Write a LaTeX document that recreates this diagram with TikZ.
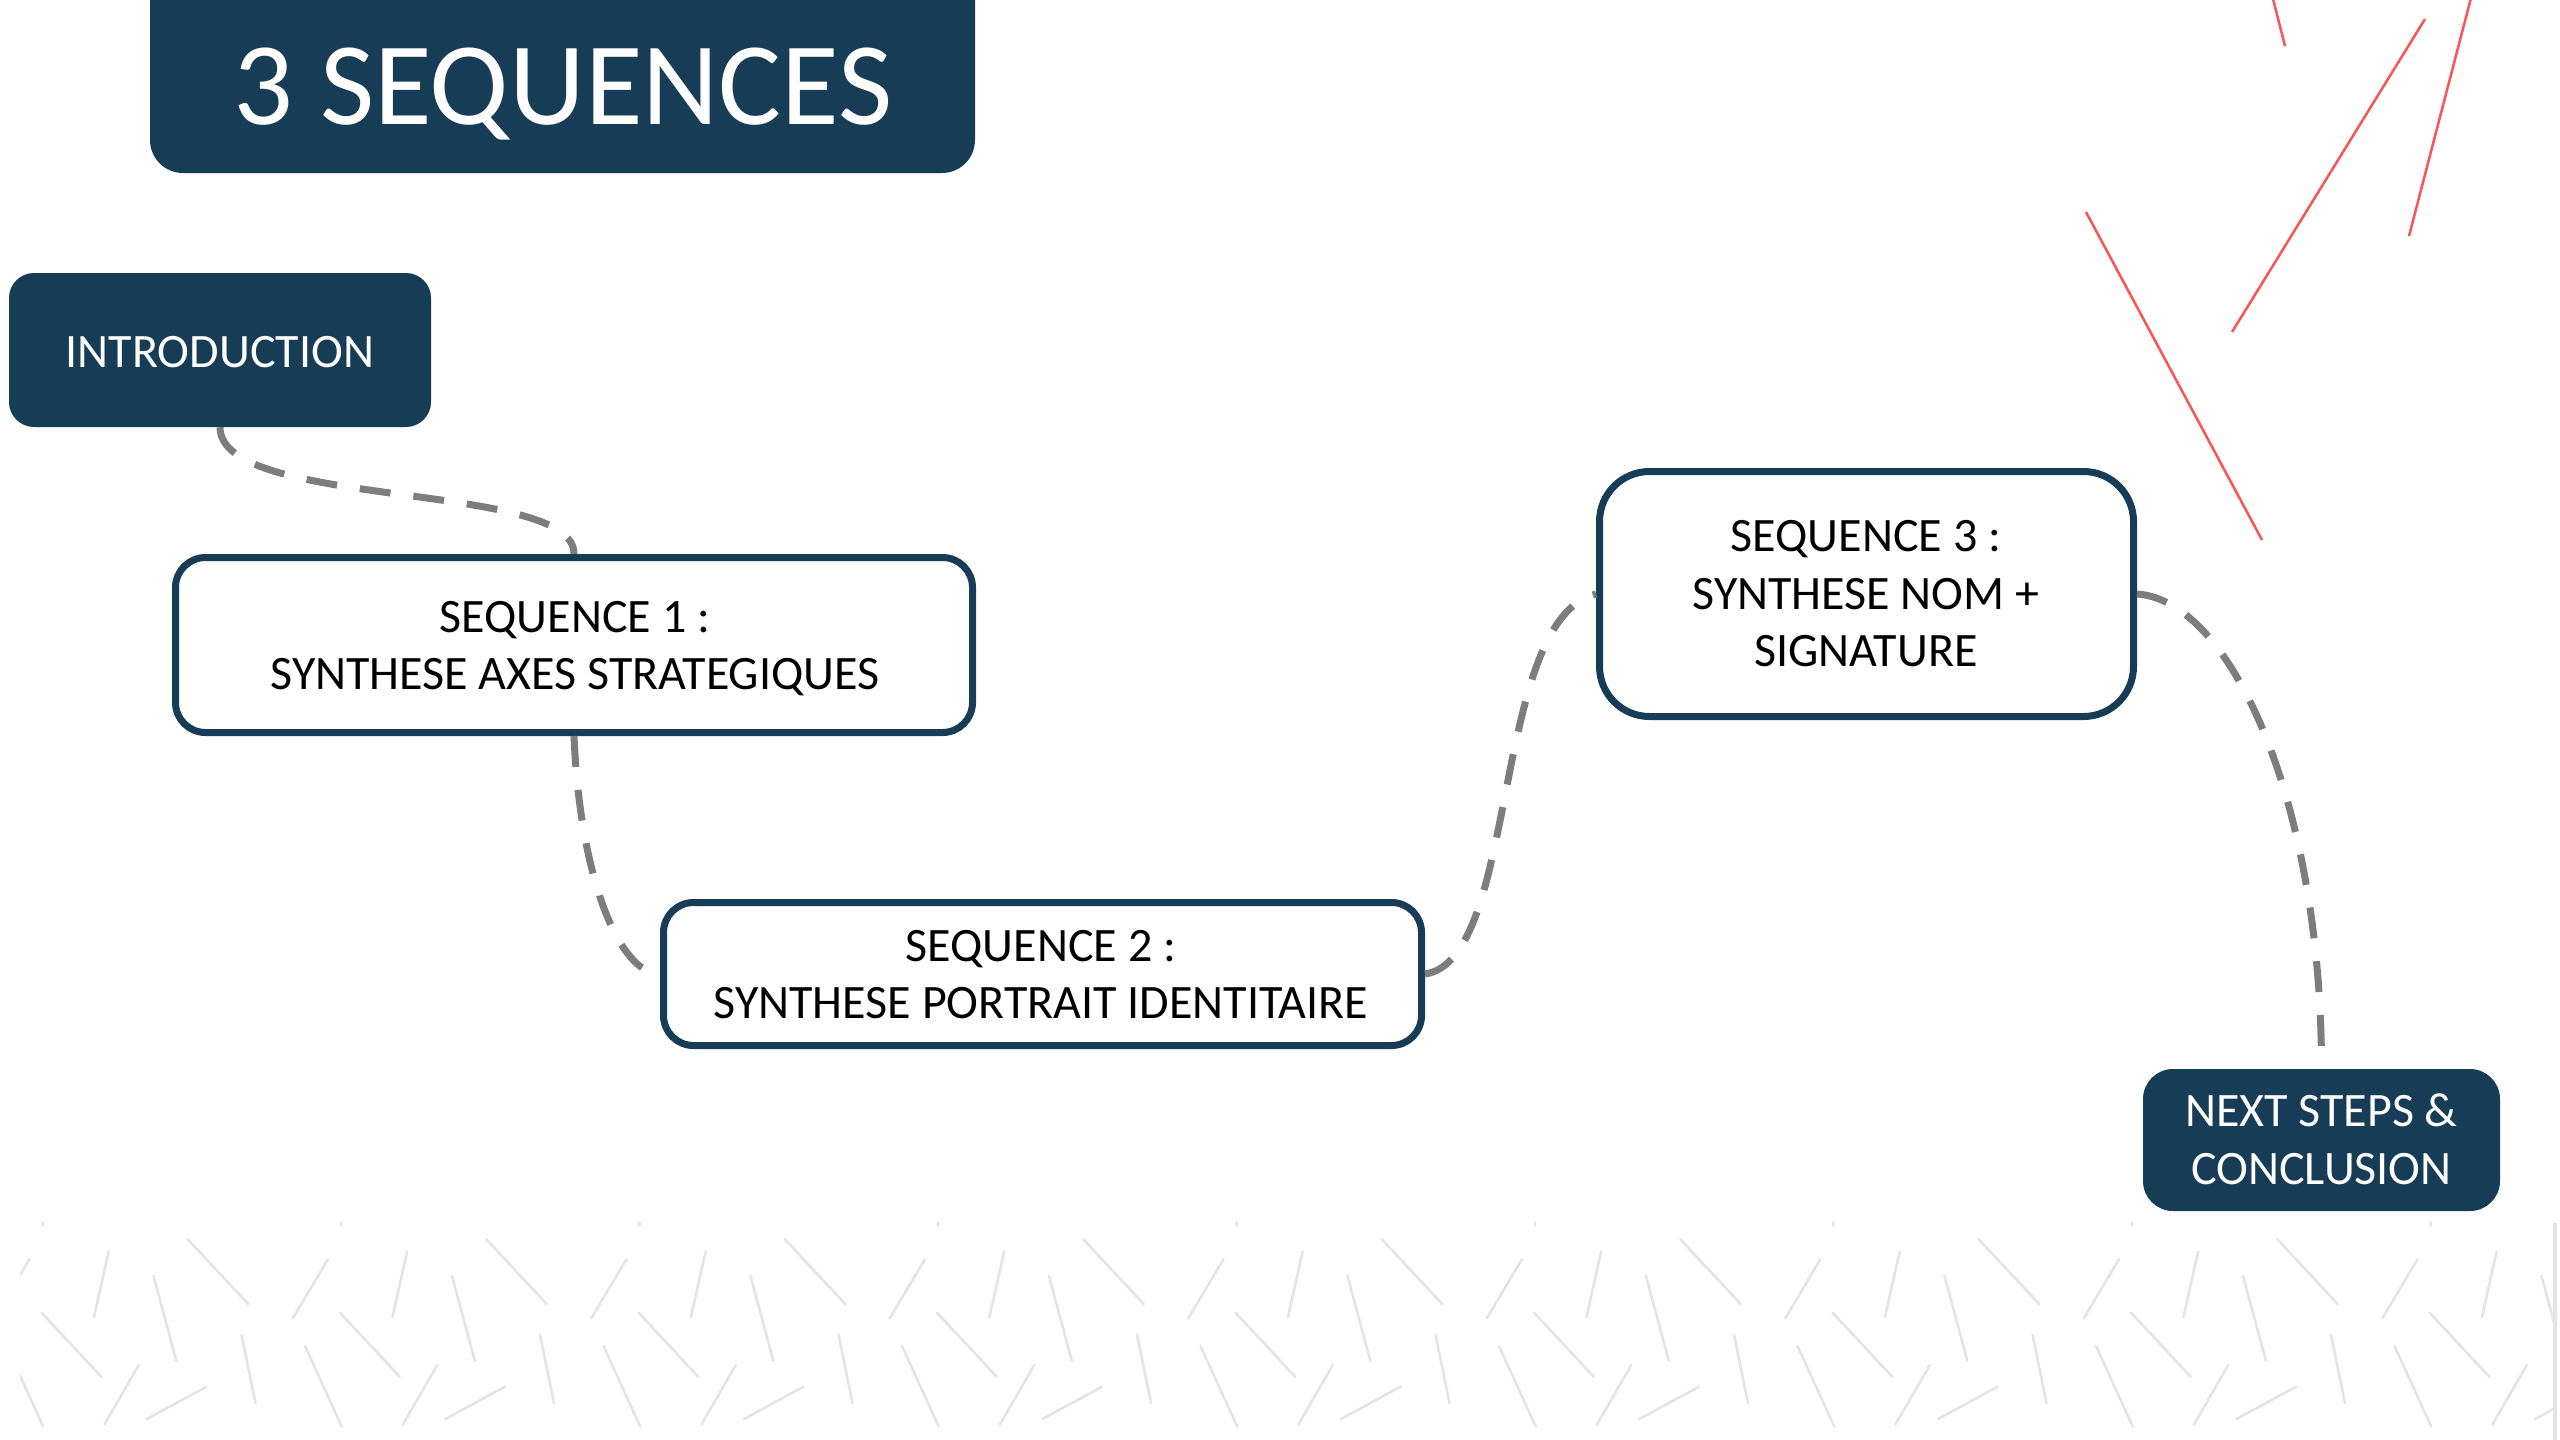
\documentclass[tikz,border=0pt]{standalone}
\usepackage{fontspec}
\setmainfont{Carlito}
\definecolor{navy}{RGB}{23,61,86}
\definecolor{dashgray}{RGB}{125,125,125}
\definecolor{redline}{RGB}{250,85,85}
\definecolor{patgray}{RGB}{228,228,228}
\tikzset{
  seqbox/.style={draw=navy, line width=7pt, fill=white, rounded corners=30pt, inner sep=0pt},
  filledbox/.style={fill=navy, rounded corners=25pt, inner sep=0pt},
  txt/.style={font=\fontsize{48}{57}\selectfont, anchor=base, inner sep=0pt, text=black},
  wtxt/.style={txt, text=white},
  conn/.style={draw=dashgray, line width=7pt, dash pattern=on 31pt off 23pt},
  redstroke/.style={draw=redline, line width=2.5pt},
  patstroke/.style={draw=patgray, line width=2.5pt, line cap=round},
}
\begin{document}
\begin{tikzpicture}[x=1pt,y=-1pt]
\useasboundingbox (0,0) rectangle (2560,1440);
\fill[white] (0,0) rectangle (2560,1440);

% bottom pattern
\begin{scope}
\clip (20,1215) rectangle (2553,1440);
\foreach \i in {-1,...,9}{
  \begin{scope}[xshift=\i*298.5pt]
    \draw[patstroke] (29.4,1259.3) -- (-5.7,1318.3);
    \draw[patstroke] (108.6,1251.7) -- (93.9,1317.3);
    \draw[patstroke] (153.5,1276) -- (176.3,1360.7);
    \draw[patstroke] (187.8,1239.3) -- (248.2,1304);
    \draw[patstroke] (41.6,1312.7) -- (101.2,1376.7);
    \draw[patstroke] (241.6,1335) -- (255.5,1403.3);
    \draw[patstroke] (6.5,1346) -- (43.3,1426.7);
    \draw[patstroke] (138.8,1365) -- (104.5,1424.3);
    \draw[patstroke] (206.5,1386.7) -- (146.9,1419);
    \draw[patstroke] (42.4,1222.5) -- (42.4,1225.5);
  \end{scope}
}
\end{scope}
\draw[draw=patgray, line width=4pt] (2555,1223) -- (2555,1440);

% red strokes
\draw[redstroke] (2272,-5) -- (2285,46);
\draw[redstroke] (2425,19) -- (2232,332);
\draw[redstroke] (2472,-6) -- (2409,236);
\draw[redstroke] (2086,212) -- (2262,540);

% boxes
\node[filledbox, rounded corners=33pt, minimum width=825pt, minimum height=214pt] (title) at (562.5,66) {};
\node[filledbox, minimum width=422pt, minimum height=154pt] (intro) at (220,350) {};
\node[seqbox, minimum width=797pt, minimum height=175pt] (s1) at (574,645) {};
\node[seqbox, minimum width=758pt, minimum height=143pt] (s2) at (1042.5,974) {};
\node[seqbox, rounded corners=50pt, minimum width=534pt, minimum height=245pt] (s3) at (1866.5,594) {};
\node[filledbox, rounded corners=30pt, minimum width=357pt, minimum height=142pt] (next) at (2321.5,1140) {};

% texts
\node[wtxt, font=\fontsize{118}{140}\selectfont] (titletxt) at (563,124) {3 SEQUENCES};
\node[wtxt] (introtxt) at (220,367) {INTRODUCTION};
\node[txt] (s1a) at (575,632.5) {SEQUENCE 1 :};
\node[txt] (s1b) at (575,689.5) {SYNTHESE AXES STRATEGIQUES};
\node[txt] (s2a) at (1041,961.5) {SEQUENCE 2 :};
\node[txt] (s2b) at (1041,1018.5) {SYNTHESE PORTRAIT IDENTITAIRE};
\node[txt] (s3a) at (1866,551.5) {SEQUENCE 3 :};
\node[txt] (s3b) at (1866,609.5) {SYNTHESE NOM +};
\node[txt] (s3c) at (1866,666.5) {SIGNATURE};
\node[wtxt] (nexta) at (2321.5,1126.5) {NEXT STEPS \&};
\node[wtxt] (nextb) at (2321.5,1184.5) {CONCLUSION};

% connectors
\draw[conn] (intro.south) .. controls +(0,83) and +(1,-74) .. (s1.north);
\draw[conn] (s1.south) .. controls +(6,144) and +(-40,0) .. (s2.west);
\draw[conn] (s2.east) .. controls +(95,-14) and +(-106,26) .. (s3.west);
\draw[conn] (s3.east) .. controls +(93,6) and +(0,-269) .. (next.north);
\end{tikzpicture}
\end{document}
